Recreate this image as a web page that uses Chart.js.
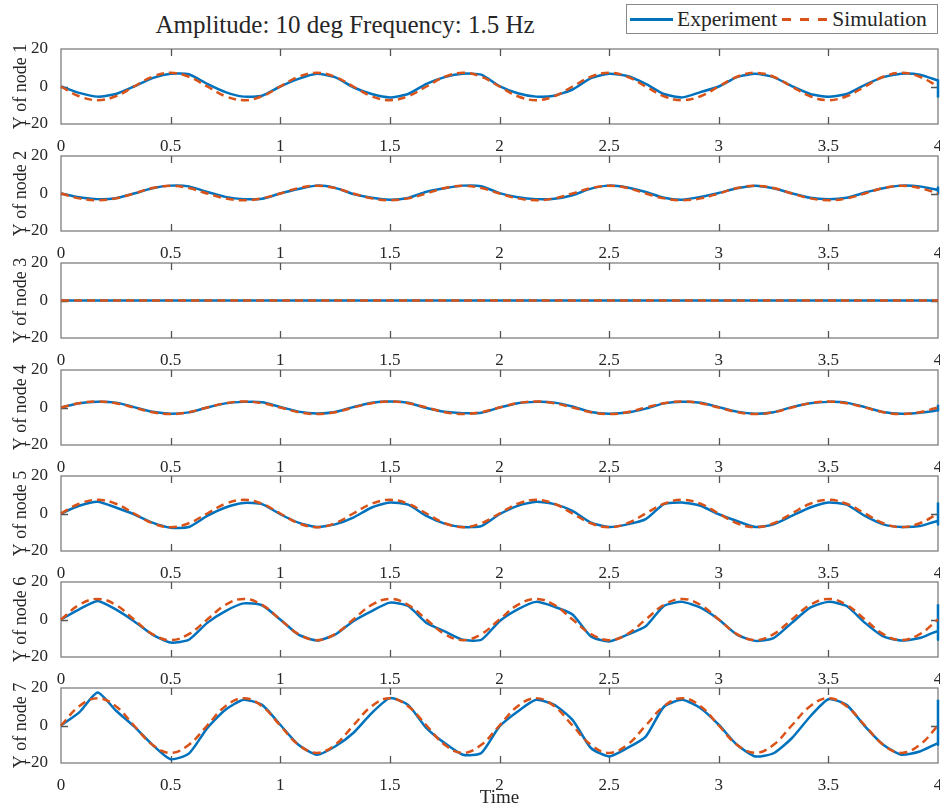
<!DOCTYPE html>
<html>
<head>
<meta charset="utf-8">
<script src="https://cdn.jsdelivr.net/npm/chart.js@4.4.1/dist/chart.umd.min.js"></script>
<style>
  body { margin: 0; background: #fff; width: 940px; height: 810px; position: relative; overflow: hidden;
         font-family: "Liberation Serif", serif; color: #262626; }
  canvas { position: absolute; left: 0; }
  #title { position: absolute; left: 0; width: 690px; top: 11px; text-align: center; font-size: 25px; line-height: 28px; }
  #legend { position: absolute; left: 626px; top: 4px; width: 312px; height: 30px; box-sizing: border-box;
            border: 1px solid #8a8a8a; display: flex; align-items: center; font-size: 21.5px; padding-left: 3px; }
  .sw { display: inline-block; height: 3px; margin-right: 4px; }
  .solid { width: 43px; background: #0072BD; }
  .dash { width: 46px; margin-left: 5px; background: repeating-linear-gradient(90deg, #D95319 0 9px, transparent 9px 18px); }
</style>
</head>
<body>
<div id="title">Amplitude: 10 deg Frequency: 1.5 Hz</div>
<div id="legend"><span class="sw solid"></span><span>Experiment</span><span class="sw dash"></span><span>Simulation</span></div>

<script>
// time samples (s); the last two 4s carry the vertical jump at the end of the experiment traces
const times = [0, 0.083, 0.167, 0.25, 0.333, 0.417, 0.5, 0.583, 0.667, 0.75, 0.833, 0.917,
  1, 1.083, 1.167, 1.25, 1.333, 1.417, 1.5, 1.583, 1.667, 1.75, 1.833, 1.917,
  2, 2.083, 2.167, 2.25, 2.333, 2.417, 2.5, 2.583, 2.667, 2.75, 2.833, 2.917,
  3, 3.083, 3.167, 3.25, 3.333, 3.417, 3.5, 3.583, 3.667, 3.75, 3.833, 3.917,
  4, 4, 4];
const flatTimes = [0, 4];

const nodeLabels = ['Y of node 1', 'Y of node 2', 'Y of node 3', 'Y of node 4', 'Y of node 5', 'Y of node 6', 'Y of node 7'];

// Experiment
const expNode1 = [0, -3.4, -5.4, -4, 0, 4.5, 6.8, 6.5, 1.4, -3, -5.4, -4.9,
  0, 4.1, 6.8, 5, -0.4, -4, -5.8, -4, 1.4, 5, 6.8, 6.3,
  0.2, -3.6, -5.4, -4.9, -1.6, 4.5, 6.8, 5.6, 1.4, -4, -5.8, -3,
  0, 5, 6.8, 5, 0.2, -4, -5.4, -4, 0.9, 5, 6.8, 6.3,
  3.2, 3.2, -5.8];
const expNode2 = [0, -2, -3, -2.5, 0, 2.8, 4.2, 3.8, 0.8, -1.8, -3, -2.8,
  0, 2.4, 4.2, 3, -0.3, -2.3, -3.3, -2.4, 0.9, 2.8, 4.2, 3.9,
  0.2, -2, -3, -2.8, -0.9, 2.6, 4.2, 3.2, 0.8, -2.3, -3.3, -1.8,
  0.3, 2.8, 4.2, 2.8, 0.1, -2.3, -3, -2.3, 0.5, 2.8, 4.2, 3.8,
  2, 3.2, -0.5];
const expNode3 = [0, 0];
const expNode4 = [0, 2.3, 3.1, 2.6, 0.2, -2.3, -3.3, -2.6, 0, 2.2, 3, 2.8,
  0.3, -2.2, -3.2, -2.4, 0.2, 2.5, 3.2, 2.5, -0.3, -2.3, -3, -2.8,
  0, 2.3, 3, 2.6, 0.5, -2.4, -3.3, -2.7, -0.6, 2.2, 3.1, 2.5,
  0.2, -2.2, -3.3, -2.5, 0.2, 2.3, 3, 2.6, 0.2, -2.4, -3.3, -2.8,
  -1.5, -1.5, 1.5];
const expNode5 = [0, 4.1, 6.3, 3.2, -0.4, -4.9, -7.6, -7.2, -1.3, 3.2, 5.6, 5,
  -0.4, -4.9, -7.2, -5.8, -2.2, 3.2, 5.9, 4.7, -1.3, -5.4, -7.2, -6.7,
  -0.4, 4.1, 6.3, 5, 1.4, -4.9, -7.2, -5.8, -3, 5, 5.9, 4.1,
  -0.4, -4, -7.2, -5.8, -1.3, 3.2, 5.9, 4.7, -1.3, -5.8, -7.2, -6.7,
  -4, -5.8, 5.9];
const expNode6 = [0, 5.4, 9.9, 5.4, -0.9, -8.1, -12.3, -10.8, -1.8, 4.5, 8.6, 7.6,
  0, -8.1, -11.2, -8.1, -0.9, 4.5, 9, 7.2, -1.8, -6.3, -10.8, -10.8,
  -0.9, 5.4, 9.4, 6.8, 2.7, -9, -11.7, -8.1, -3.6, 7.2, 9.4, 6.3,
  0, -8.1, -11.4, -9.9, -1.8, 6.3, 9.4, 7.2, -1.8, -9, -11.2, -9.9,
  -6.3, -10.8, 8.1];
const expNode7 = [0, 7, 17.6, 8, -0.5, -10.3, -18, -15, -1.4, 8.4, 13.7, 11,
  0.4, -10.3, -15.6, -11.2, -4, 6.6, 14.6, 11, -1.4, -9.4, -15.6, -14.7,
  -0.5, 7.5, 13.7, 11, 3, -12, -16.5, -12, -5.9, 10, 13.7, 9.2,
  0.4, -10.3, -16.5, -14.8, -6.8, 4.8, 14, 11, -0.5, -10.3, -15.6, -13.9,
  -9.4, -10.3, 13.7];

// Simulation
const simNode1 = [0, -5.2, -7.3, -5.2, 0, 5.2, 7.3, 5.2, 0, -5.2, -7.3, -5.2,
  0, 5.2, 7.3, 5.2, 0, -5.2, -7.3, -5.2, 0, 5.2, 7.3, 5.2,
  0, -5.2, -7.3, -5.2, 0, 5.2, 7.3, 5.2, 0, -5.2, -7.3, -5.2,
  0, 5.2, 7.3, 5.2, 0, -5.2, -7.3, -5.2, 0, 5.2, 7.3, 5.2, 0];
const simNode2 = [0, -2.6, -3.6, -2.6, 0, 2.9, 4.1, 2.9, 0, -2.6, -3.6, -2.6,
  0, 2.9, 4.1, 2.9, 0, -2.6, -3.6, -2.6, 0, 2.9, 4.1, 2.9,
  0, -2.6, -3.6, -2.6, 0, 2.9, 4.1, 2.9, 0, -2.6, -3.6, -2.6,
  0, 2.9, 4.1, 2.9, 0, -2.6, -3.6, -2.6, 0, 2.9, 4.1, 2.9, 0];
const simNode3 = [0, 0];
const simNode4 = [0, 2.3, 3.2, 2.3, 0, -2.5, -3.5, -2.5, 0, 2.3, 3.2, 2.3,
  0, -2.5, -3.5, -2.5, 0, 2.3, 3.2, 2.3, 0, -2.5, -3.5, -2.5,
  0, 2.3, 3.2, 2.3, 0, -2.5, -3.5, -2.5, 0, 2.3, 3.2, 2.3,
  0, -2.5, -3.5, -2.5, 0, 2.3, 3.2, 2.3, 0, -2.5, -3.5, -2.5, 0];
const simNode5 = [0, 5.2, 7.3, 5.2, 0, -5.2, -7.3, -5.2, 0, 5.2, 7.3, 5.2,
  0, -5.2, -7.3, -5.2, 0, 5.2, 7.3, 5.2, 0, -5.2, -7.3, -5.2,
  0, 5.2, 7.3, 5.2, 0, -5.2, -7.3, -5.2, 0, 5.2, 7.3, 5.2,
  0, -5.2, -7.3, -5.2, 0, 5.2, 7.3, 5.2, 0, -5.2, -7.3, -5.2, 0];
const simNode6 = [0, 7.8, 11, 7.8, 0, -7.8, -11, -7.8, 0, 7.8, 11, 7.8,
  0, -7.8, -11, -7.8, 0, 7.8, 11, 7.8, 0, -7.8, -11, -7.8,
  0, 7.8, 11, 7.8, 0, -7.8, -11, -7.8, 0, 7.8, 11, 7.8,
  0, -7.8, -11, -7.8, 0, 7.8, 11, 7.8, 0, -7.8, -11, -7.8, 0];
const simNode7 = [0, 10.3, 14.6, 10.3, 0, -10.3, -14.6, -10.3, 0, 10.3, 14.6, 10.3,
  0, -10.3, -14.6, -10.3, 0, 10.3, 14.6, 10.3, 0, -10.3, -14.6, -10.3,
  0, 10.3, 14.6, 10.3, 0, -10.3, -14.6, -10.3, 0, 10.3, 14.6, 10.3,
  0, -10.3, -14.6, -10.3, 0, 10.3, 14.6, 10.3, 0, -10.3, -14.6, -10.3, 0];

const expSeries = [expNode1, expNode2, expNode3, expNode4, expNode5, expNode6, expNode7];
const simSeries = [simNode1, simNode2, simNode3, simNode4, simNode5, simNode6, simNode7];

// layout of the stacked axes (page pixels)
const panelTops = [49, 156, 263, 370, 476, 582, 688];
const plotHeight = 75;
const topPad = 10;

const FONT = '"Liberation Serif", serif';
const TEXT = '#262626';
const BLUE = '#0072BD';
const ORANGE = '#D95319';

function toPoints(xs, ys) {
    return ys.map((v, i) => ({ x: xs[i], y: v }));
}

// "1" not "1.0", like matlab
function tickText(v) {
    return String(Math.round(v * 100) / 100);
}

// matlab style box with inward ticks
const boxTicks = {
    id: 'boxTicks',
    beforeDatasetsDraw(chart) {
        const { ctx, chartArea: a, scales: { x, y } } = chart;
        ctx.save();
        ctx.strokeStyle = '#7f7f7f';
        ctx.lineWidth = 1.3;
        ctx.strokeRect(a.left, a.top, a.width, a.height);
        ctx.beginPath();
        x.ticks.forEach(t => {
            if (t.value <= 0 || t.value >= 4) return;
            const px = Math.round(x.getPixelForValue(t.value)) + 0.5;
            ctx.moveTo(px, a.top); ctx.lineTo(px, a.top + 7);
            ctx.moveTo(px, a.bottom); ctx.lineTo(px, a.bottom - 7);
        });
        const py = Math.round(y.getPixelForValue(0)) + 0.5;
        ctx.moveTo(a.left, py); ctx.lineTo(a.left + 7, py);
        ctx.moveTo(a.right, py); ctx.lineTo(a.right - 7, py);
        ctx.strokeStyle = '#555';
        ctx.stroke();
        ctx.restore();
    }
};

for (let i = 0; i < 7; i++) {
    const last = i === 6;
    const xh = last ? 46 : 28;
    const canvas = document.createElement('canvas');
    canvas.width = 940;
    canvas.height = topPad + plotHeight + xh;
    canvas.style.top = (panelTops[i] - topPad) + 'px';
    document.body.appendChild(canvas);

    const flat = i === 2;
    const expPts = toPoints(flat ? flatTimes : times, expSeries[i]);
    const simPts = toPoints(flat ? flatTimes : times, simSeries[i]);

    new Chart(canvas.getContext('2d'), {
        type: 'line',
        data: {
            datasets: [{
                label: 'Simulation',
                data: simPts,
                borderColor: ORANGE,
                borderWidth: 2.5,
                borderDash: [8, 5],
                tension: 0.4,
                pointRadius: 0,
                order: 0,
                clip: 3
            }, {
                label: 'Experiment',
                data: expPts,
                borderColor: BLUE,
                borderWidth: 2.5,
                tension: 0.2,
                pointRadius: 0,
                order: 1,
                clip: 3
            }]
        },
        options: {
            responsive: false,
            animation: false,
            devicePixelRatio: 1,
            layout: { padding: { top: topPad, right: 2, left: 0, bottom: 0 } },
            plugins: { legend: { display: false }, tooltip: { enabled: false } },
            scales: {
                x: {
                    type: 'linear', min: 0, max: 4,
                    grid: { display: false },
                    border: { display: false },
                    ticks: { stepSize: 0.5, padding: 4, color: TEXT, font: { family: FONT, size: 17 }, maxRotation: 0, callback: tickText },
                    title: { display: last, text: 'Time', color: TEXT, font: { family: FONT, size: 19 }, padding: { top: 0, bottom: 0 } },
                    afterFit: s => { s.height = xh; s.paddingLeft = 0; s.paddingRight = 0; }
                },
                y: {
                    min: -20, max: 20,
                    grid: { display: false },
                    border: { display: false },
                    ticks: { stepSize: 20, padding: 5, color: TEXT, font: { family: FONT, size: 17 }, callback: tickText },
                    title: { display: true, text: nodeLabels[i], color: TEXT, font: { family: FONT, size: 18 }, padding: { top: 10, bottom: 0 } },
                    afterFit: s => { s.width = 61; s.paddingTop = 0; s.paddingBottom = 0; }
                }
            }
        },
        plugins: [boxTicks]
    });
}
</script>
</body>
</html>
